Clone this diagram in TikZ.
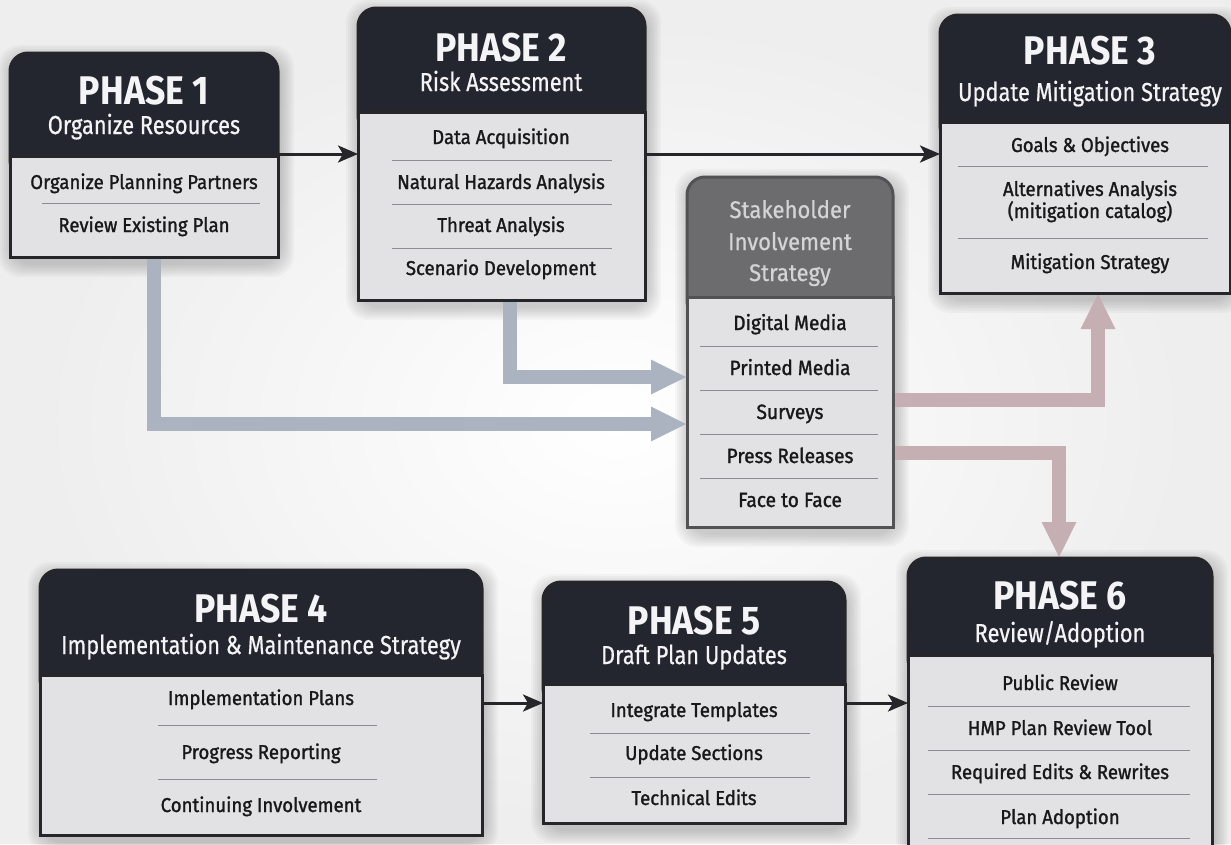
\documentclass[tikz,border=0pt]{standalone}
\usepackage{fontspec}
\setmainfont{Fira Sans}[FakeStretch=0.85]
\newfontfamily\phfont{Fira Sans}[FakeStretch=0.89]
\newfontfamily\subfont{Fira Sans}[FakeStretch=0.84, FakeBold=0.6]
\newfontfamily\itfont{Fira Sans}[FakeStretch=0.93, FakeBold=1.3]
\newfontfamily\skfont{Fira Sans}[FakeStretch=0.92, FakeBold=0.6]
\usetikzlibrary{arrows.meta}
\definecolor{hdr}{RGB}{35,37,47}
\definecolor{bodyc}{RGB}{226,226,229}
\definecolor{bord}{RGB}{38,38,42}
\definecolor{sepc}{RGB}{140,140,146}
\definecolor{skhc}{RGB}{108,108,111}
\definecolor{skbord}{RGB}{82,82,85}
\definecolor{sktext}{RGB}{212,212,214}
\definecolor{hdtext}{RGB}{244,244,246}
\definecolor{ittext}{RGB}{24,24,26}
\definecolor{bluec}{RGB}{170,179,191}
\definecolor{rosec}{RGB}{197,175,178}
\definecolor{bgc}{RGB}{238,238,239}
\pgfdeclarelayer{bg}
\pgfsetlayers{bg,main}
\newcommand\softshade[4]{\foreach \s in {1,...,7}{\fill[black,opacity=0.028,rounded corners=22pt] ({#1-\s*2+2},{#2-\s*2+6}) rectangle ({#3+\s*2+2},{#4+\s*2+6});}}
\begin{document}
\begin{tikzpicture}[x=1pt,y=-1pt,
  hdrbox/.style={fill=hdr, draw=bord, line width=3pt, rounded corners=18pt, inner sep=0pt, outer sep=0pt, anchor=north west},
  bodybox/.style={fill=bodyc, draw=bord, line width=3pt, inner sep=0pt, outer sep=0pt, anchor=north west},
  skhbox/.style={hdrbox, fill=skhc, draw=skbord},
  skbbox/.style={bodybox, draw=skbord},
  ph/.style={anchor=base, inner sep=0pt, text=hdtext, font=\phfont\bfseries\fontsize{40}{40}\selectfont},
  sub/.style={anchor=base, inner sep=0pt, text=hdtext, font=\subfont\fontsize{26}{26}\selectfont},
  it/.style={anchor=base, inner sep=0pt, text=ittext, font=\itfont\fontsize{20}{20}\selectfont},
  skit/.style={it, font=\itfont\fontsize{20.6}{20.6}\selectfont},
  skt/.style={anchor=base, inner sep=0pt, text=sktext, font=\skfont\fontsize{24}{24}\selectfont},
  sepline/.style={draw=sepc, line width=0.8pt},
  flow/.style={draw=bord, line width=3pt, -{Stealth[length=20pt,width=17pt,inset=5pt]}},
  barrow/.style={draw=bluec, line width=14pt, line join=miter, -{Triangle[length=36pt,width=32pt]}},
  rarrow/.style={barrow, draw=rosec}]
\useasboundingbox (0,0) rectangle (1231,844);

% ---------- Phase 1
\node[hdrbox, minimum width=268pt, minimum height=125pt] (p1h) at (10,53) {};
\node[bodybox, minimum width=268pt, minimum height=101pt] (p1b) at (10,156) {};
\node[ph] (p1t) at (144,104) {PHASE 1};
\node[sub] (p1s) at (144,134) {Organize Resources};
\node[it] (p1i1) at (144,189) {Organize Planning Partners};
\node[it] (p1i2) at (144,232) {Review Existing Plan};
\draw[sepline] (42,203) -- (260,203);

% ---------- Phase 2
\node[hdrbox, minimum width=287pt, minimum height=126pt] (p2h) at (358,8) {};
\node[bodybox, minimum width=287pt, minimum height=188pt] (p2b) at (358,112) {};
\node[ph] (p2t) at (501,61) {PHASE 2};
\node[sub] (p2s) at (501,91) {Risk Assessment};
\node[it] (p2i1) at (501,144) {Data Acquisition};
\node[it] (p2i2) at (501,189) {Natural Hazards Analysis};
\node[it] (p2i3) at (501,232) {Threat Analysis};
\node[it] (p2i4) at (501,275) {Scenario Development};
\foreach \yy in {160,204,248} \draw[sepline] (392,\yy) -- (612,\yy);

% ---------- Phase 3
\node[hdrbox, minimum width=290pt, minimum height=129pt] (p3h) at (940,15) {};
\node[bodybox, minimum width=290pt, minimum height=171pt] (p3b) at (940,122) {};
\node[ph] (p3t) at (1090,64) {PHASE 3};
\node[sub] (p3s) at (1090,101) {Update Mitigation Strategy};
\node[it] (p3i1) at (1090,152) {Goals \& Objectives};
\node[it] (p3i2) at (1090,196) {Alternatives Analysis};
\node[it] (p3i3) at (1090,218) {(mitigation catalog)};
\node[it] (p3i4) at (1090,269) {Mitigation Strategy};
\foreach \yy in {166,238} \draw[sepline] (958,\yy) -- (1208,\yy);

% ---------- Stakeholder
\node[skhbox, minimum width=206pt, minimum height=142pt] (skh) at (687,177) {};
\node[skbbox, minimum width=206pt, minimum height=230pt] (skb) at (687,297) {};
\node[skt] (skt1) at (790,218) {Stakeholder};
\node[skt] (skt2) at (790,250) {Involvement};
\node[skt] (skt3) at (790,281) {Strategy};
\node[skit] (ski1) at (790,330) {Digital Media};
\node[skit] (ski2) at (790,375) {Printed Media};
\node[skit] (ski3) at (790,419) {Surveys};
\node[skit] (ski4) at (790,463) {Press Releases};
\node[skit] (ski5) at (790,507) {Face to Face};
\foreach \yy in {346,390,434,478} \draw[sepline] (700,\yy) -- (878,\yy);

% ---------- Phase 4
\node[hdrbox, minimum width=442pt, minimum height=127pt] (p4h) at (40,570) {};
\node[bodybox, minimum width=442pt, minimum height=160pt] (p4b) at (40,675) {};
\node[ph] (p4t) at (261,622) {PHASE 4};
\node[sub] (p4s) at (261,654) {Implementation \& Maintenance Strategy};
\node[it] (p4i1) at (261,705) {Implementation Plans};
\node[it] (p4i2) at (261,759) {Progress Reporting};
\node[it] (p4i3) at (261,812) {Continuing Involvement};
\foreach \yy in {725,779} \draw[sepline] (158,\yy) -- (377,\yy);

% ---------- Phase 5
\node[hdrbox, minimum width=302pt, minimum height=124pt] (p5h) at (543,582) {};
\node[bodybox, minimum width=302pt, minimum height=139pt] (p5b) at (543,684) {};
\node[ph] (p5t) at (694,634) {PHASE 5};
\node[sub] (p5s) at (694,664) {Draft Plan Updates};
\node[it] (p5i1) at (694,717) {Integrate Templates};
\node[it] (p5i2) at (694,760) {Update Sections};
\node[it] (p5i3) at (694,805) {Technical Edits};
\foreach \yy in {733,777} \draw[sepline] (590,\yy) -- (810,\yy);

% ---------- Phase 6
\node[hdrbox, minimum width=304pt, minimum height=119pt] (p6h) at (908,558) {};
\node[bodybox, minimum width=304pt, minimum height=205pt] (p6b) at (908,655) {};
\node[ph] (p6t) at (1060,609) {PHASE 6};
\node[sub] (p6s) at (1060,642) {Review/Adoption};
\node[it] (p6i1) at (1060,690) {Public Review};
\node[it] (p6i2) at (1060,735) {HMP Plan Review Tool};
\node[it] (p6i3) at (1060,779) {Required Edits \& Rewrites};
\node[it] (p6i4) at (1060,824) {Plan Adoption};
\foreach \yy in {706,750,794,838} \draw[sepline] (928,\yy) -- (1190,\yy);

% ---------- black flow arrows
\coordinate (row1) at (0,154);
\coordinate (row2) at (0,703);
\draw[flow] (p1b.east |- row1) -- (p2b.west |- row1);
\draw[flow] (p2b.east |- row1) -- (p3b.west |- row1);
\draw[flow] (p4b.east |- row2) -- (p5b.west |- row2);
\draw[flow] (p5b.east |- row2) -- (p6b.west |- row2);

% ---------- background layer: page, shadows, wide arrows
\begin{pgfonlayer}{bg}
\fill[bgc] (0,0) rectangle (1231,844);
\shade[inner color=white, outer color=bgc] (40,20) rectangle (1190,824);
\softshade{10}{53}{278}{257}
\softshade{358}{8}{645}{300}
\softshade{940}{15}{1230}{293}
\softshade{687}{177}{893}{527}
\softshade{40}{570}{482}{835}
\softshade{543}{582}{845}{823}
\softshade{908}{558}{1212}{860}
\coordinate (b1) at (154,424);
\coordinate (b2) at (510,377);
\coordinate (r1) at (1098,400);
\coordinate (r2) at (1059,453);
\draw[barrow] (p1b.south -| b1) |- (skb.west |- b1);
\draw[barrow] (p2b.south -| b2) |- (skb.west |- b2);
\draw[rarrow] (skb.east |- r1) -| (p3b.south -| r1);
\draw[rarrow] (skb.east |- r2) -| (p6h.north -| r2);
\end{pgfonlayer}
\end{tikzpicture}
\end{document}
